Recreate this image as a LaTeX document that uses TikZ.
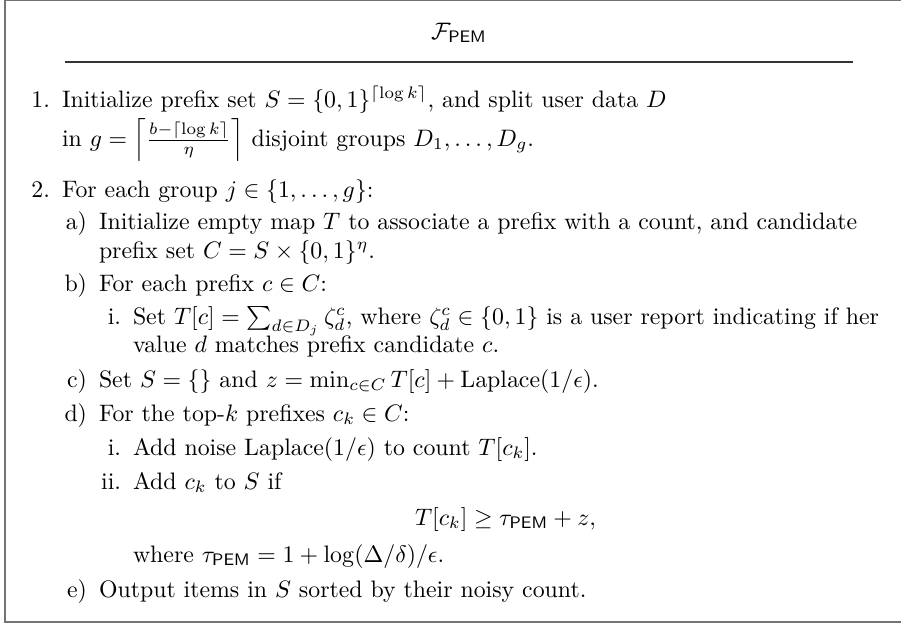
\documentclass[tikz,border=0pt]{standalone}
\usepackage{amsmath,amssymb}
\newcommand{\pem}{\mathsf{PEM}}
\begin{document}
\begin{tikzpicture}[x=0.42pt,y=-0.42pt,
  txt/.style={anchor=base west,inner sep=0pt,outer sep=0pt,font=\fontsize{10}{12}\selectfont},
  lbl/.style={anchor=base east,inner sep=0pt,outer sep=0pt,font=\fontsize{10}{12}\selectfont},
  frameline/.style={draw=black!55,line width=0.5pt},
  titlerule/.style={draw=black!80,line width=0.65pt}]
\useasboundingbox (0,0) rectangle (901,626);
% open frame (right side runs off the page)
\draw[frameline] (901,0.8) -- (5,0.8) -- (5,622) -- (901,622);
% title and rule
\node[anchor=base,inner sep=0pt,font=\fontsize{10}{12}\selectfont] (title) at (459,39) {$\mathcal{F}_{\pem}$};
\coordinate (ruleL) at (65,62);
\coordinate (ruleR) at (853,62);
\draw[titlerule] (ruleL) -- (ruleR);
% step 1
\node[lbl] (l1) at (50,107) {1.};
\node[txt] (t1a) at (62,107) {Initialize prefix set $S=\{0,1\}^{\lceil\log k\rceil}$, and split user data $D$};
\node[txt] (t1b) at (62,146) {in $g=\left\lceil\frac{b-\lceil\log k\rceil}{\eta}\right\rceil$ disjoint groups $D_1,\dots,D_g$.};
% step 2
\node[lbl] (l2) at (50,197) {2.};
\node[txt] (t2) at (62,197) {For each group $j\in\{1,\dots,g\}$:};
\node[lbl] (la) at (87,229) {a)};
\node[txt] (ta1) at (99,229) {Initialize empty map $T$ to associate a prefix with a count, and candidate};
\node[txt] (ta2) at (99,258) {prefix set $C=S\times\{0,1\}^{\eta}$.};
\node[lbl] (lb) at (87,291) {b)};
\node[txt] (tb) at (99,291) {For each prefix $c\in C$:};
\node[lbl] (lbi) at (121,324) {i.};
\node[txt] (tbi1) at (133,324) {Set $T[c]=\sum_{d\in D_j}\zeta_d^c$, where $\zeta_d^c\in\{0,1\}$ is a user report indicating if her};
\node[txt] (tbi2) at (133,352) {value $d$ matches prefix candidate $c$.};
\node[lbl] (lc) at (87,387) {c)};
\node[txt] (tc) at (99,387) {Set $S=\{\}$ and $z=\min_{c\in C}T[c]+\mathrm{Laplace}(1/\epsilon)$.};
\node[lbl] (ld) at (87,421) {d)};
\node[txt] (td) at (99,421) {For the top-$k$ prefixes $c_k\in C$:};
\node[lbl] (ldi) at (121,455) {i.};
\node[txt] (tdi) at (133,455) {Add noise Laplace$(1/\epsilon)$ to count $T[c_k]$.};
\node[lbl] (ldii) at (121,489) {ii.};
\node[txt] (tdii1) at (133,489) {Add $c_k$ to $S$ if};
\node[txt] (tdii2) at (415,525) {$T[c_k]\geq\tau_{\pem}+z,$};
\node[txt] (tdii3) at (133,562) {where $\tau_{\pem}=1+\log(\Delta/\delta)/\epsilon$.};
\node[lbl] (le) at (87,597) {e)};
\node[txt] (te) at (99,597) {Output items in $S$ sorted by their noisy count.};
\end{tikzpicture}
\end{document}
